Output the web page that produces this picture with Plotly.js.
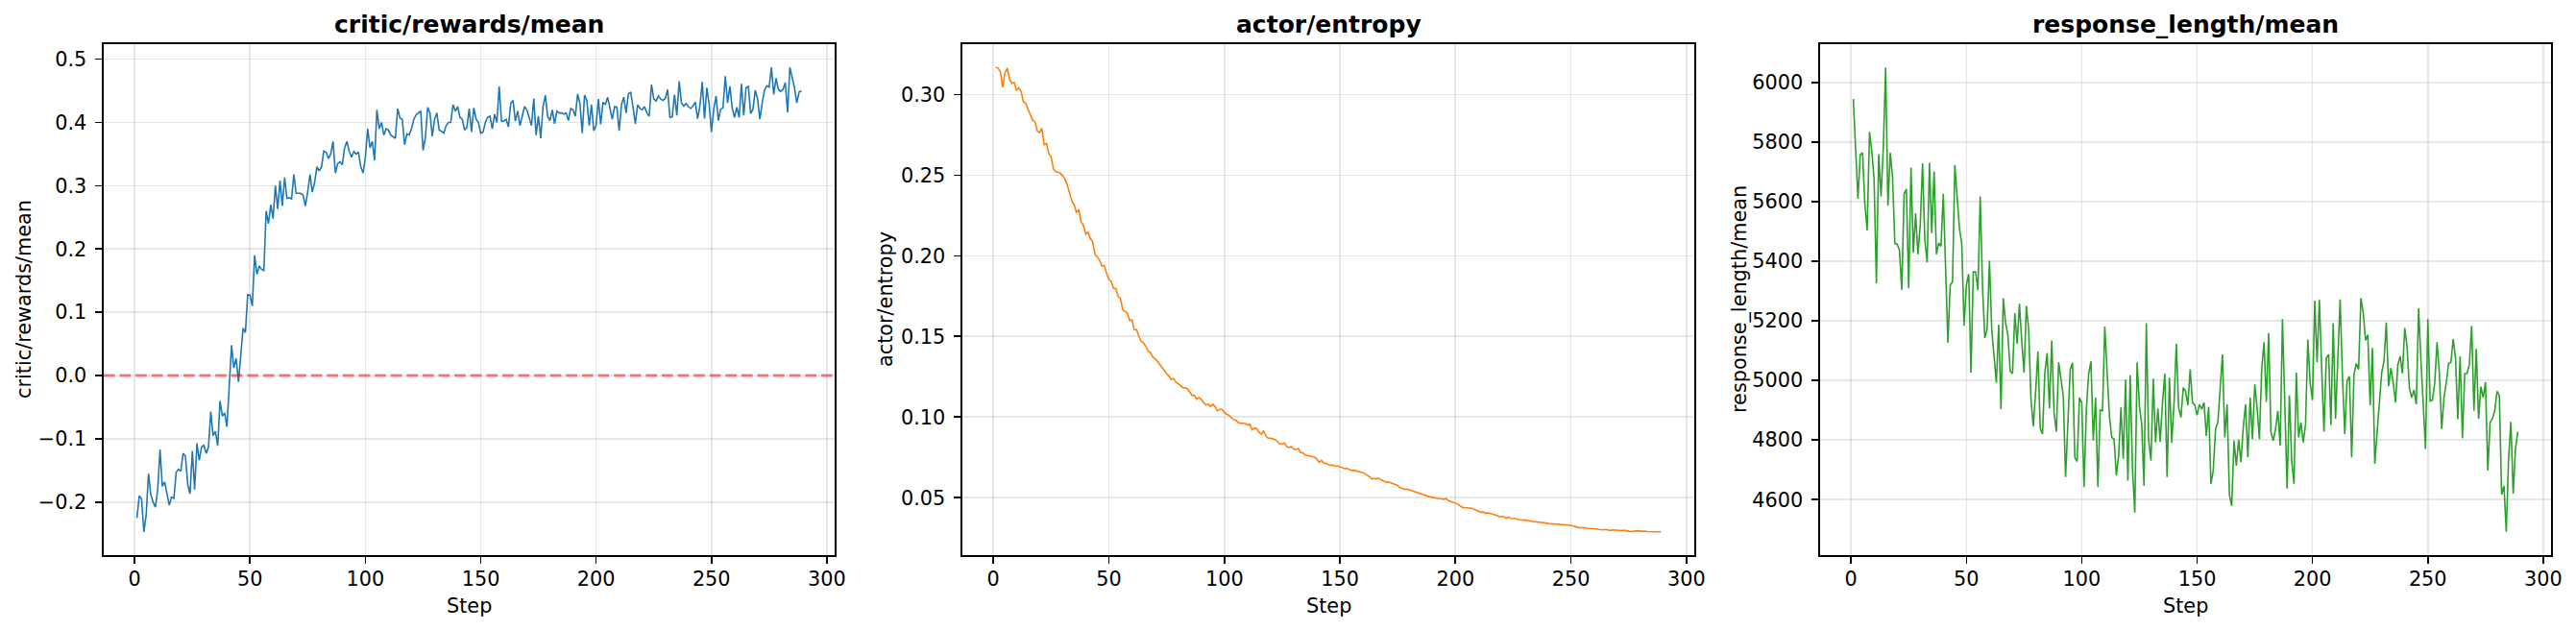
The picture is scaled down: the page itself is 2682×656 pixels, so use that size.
<!DOCTYPE html>
<html>
<head>
<meta charset="utf-8">
<script src="https://cdn.plot.ly/plotly-3.0.1.min.js"></script>
<style>html,body{margin:0;padding:0;background:#fff;}#chart{width:2682px;height:656px;}</style>
</head>
<body>
<div id="chart"></div>
<script>
// ---- data ----
const panelTitles = ["critic/rewards/mean", "actor/entropy", "response_length/mean"];
const yTitles = ["critic/rewards/mean", "actor/entropy", "response_length/mean"];
const xTitle = "Step";
const xTicks = [0, 50, 100, 150, 200, 250, 300];
const rewardTicks = [-0.2, -0.1, 0.0, 0.1, 0.2, 0.3, 0.4, 0.5];
const entropyTicks = [0.05, 0.10, 0.15, 0.20, 0.25, 0.30];
const lengthTicks = [4600, 4800, 5000, 5200, 5400, 5600, 5800, 6000];
const referenceLevel = 0;

const rewards = [
-0.225,-0.19,-0.195,-0.247,-0.22,-0.155,-0.188,-0.2,-0.208,-0.18,
-0.117,-0.175,-0.168,-0.185,-0.205,-0.192,-0.194,-0.153,-0.148,-0.151,
-0.123,-0.127,-0.172,-0.187,-0.119,-0.18,-0.107,-0.134,-0.113,-0.11,
-0.123,-0.113,-0.057,-0.095,-0.088,-0.111,-0.04,-0.064,-0.059,-0.081,
-0.02,0.048,0.012,0.027,-0.01,0.03,0.075,0.068,0.128,0.127,
0.11,0.19,0.16,0.173,0.168,0.166,0.26,0.24,0.27,0.248,
0.3,0.263,0.308,0.268,0.313,0.28,0.281,0.279,0.318,0.288,
0.288,0.288,0.285,0.268,0.29,0.318,0.29,0.305,0.33,0.323,
0.33,0.355,0.353,0.343,0.35,0.37,0.32,0.335,0.338,0.333,
0.36,0.37,0.355,0.345,0.354,0.35,0.353,0.33,0.32,0.345,
0.39,0.36,0.37,0.34,0.42,0.39,0.4,0.38,0.39,0.388,
0.38,0.378,0.375,0.422,0.407,0.405,0.365,0.382,0.38,0.39,
0.405,0.412,0.415,0.418,0.356,0.375,0.424,0.415,0.378,0.405,
0.415,0.388,0.386,0.383,0.395,0.4,0.4,0.428,0.418,0.425,
0.408,0.405,0.388,0.392,0.422,0.385,0.423,0.405,0.4,0.383,
0.385,0.4,0.408,0.41,0.39,0.413,0.4,0.457,0.402,0.402,
0.405,0.393,0.43,0.435,0.402,0.418,0.395,0.41,0.425,0.42,
0.408,0.395,0.438,0.38,0.41,0.375,0.425,0.443,0.41,0.403,
0.42,0.398,0.418,0.415,0.415,0.413,0.415,0.403,0.422,0.42,
0.41,0.445,0.43,0.383,0.443,0.435,0.395,0.428,0.387,0.395,
0.437,0.397,0.432,0.428,0.44,0.422,0.405,0.425,0.424,0.387,
0.428,0.44,0.415,0.445,0.448,0.425,0.398,0.428,0.422,0.42,
0.425,0.415,0.41,0.46,0.437,0.434,0.442,0.437,0.435,0.438,
0.452,0.408,0.409,0.444,0.411,0.465,0.431,0.426,0.43,0.425,
0.422,0.426,0.432,0.406,0.426,0.464,0.406,0.455,0.429,0.385,
0.421,0.442,0.403,0.421,0.423,0.473,0.431,0.457,0.423,0.408,
0.424,0.408,0.461,0.411,0.455,0.457,0.414,0.421,0.451,0.437,
0.405,0.431,0.451,0.458,0.456,0.487,0.444,0.47,0.452,0.449,
0.452,0.463,0.416,0.487,0.47,0.455,0.431,0.448,0.45
];

const entropy = [
0.3168,0.3164,0.3144,0.3045,0.3134,0.3164,0.3092,0.3068,0.3076,0.3025,
0.3041,0.302,0.2955,0.2945,0.2908,0.2873,0.2842,0.2832,0.2774,0.2764,
0.279,0.2688,0.2696,0.2634,0.2614,0.2538,0.2521,0.2519,0.2511,0.2497,
0.2476,0.2439,0.2388,0.2339,0.2316,0.2267,0.2287,0.2209,0.2189,0.2133,
0.2147,0.2106,0.2086,0.2008,0.1993,0.1973,0.1936,0.194,0.1891,0.1854,
0.184,0.1798,0.1798,0.1747,0.1737,0.1665,0.1655,0.1644,0.1599,0.1603,
0.1542,0.1542,0.15,0.147,0.1459,0.1439,0.1408,0.1398,0.1373,0.1361,
0.1346,0.1326,0.1305,0.1289,0.127,0.1254,0.1233,0.124,0.1217,0.1207,
0.1192,0.1182,0.1182,0.1176,0.1155,0.1135,0.1135,0.111,0.112,0.111,
0.109,0.1075,0.1079,0.1065,0.1079,0.1065,0.1038,0.1048,0.1048,0.1028,
0.1018,0.1011,0.0997,0.0983,0.098,0.0966,0.0962,0.096,0.096,0.095,
0.0956,0.0921,0.0931,0.0929,0.0905,0.0894,0.0915,0.0884,0.0868,0.0868,
0.0864,0.086,0.0847,0.0833,0.0833,0.0839,0.0816,0.0812,0.0816,0.0802,
0.0798,0.0806,0.0781,0.0777,0.0765,0.0761,0.0761,0.0755,0.0751,0.074,
0.072,0.0731,0.0714,0.0712,0.0705,0.07,0.0702,0.0695,0.0698,0.069,
0.0688,0.068,0.0682,0.0676,0.0668,0.067,0.0666,0.0664,0.0662,0.0655,
0.0648,0.0638,0.0628,0.0616,0.0619,0.0617,0.0618,0.061,0.0603,0.0596,
0.0598,0.0592,0.0588,0.0582,0.0576,0.0562,0.0558,0.0552,0.0553,0.0548,
0.0544,0.054,0.0532,0.0529,0.0522,0.0518,0.0516,0.0508,0.0505,0.0502,
0.0498,0.0497,0.0494,0.0492,0.049,0.0494,0.0482,0.0476,0.0472,0.0468,
0.0462,0.045,0.044,0.0438,0.0436,0.0437,0.0434,0.0428,0.042,0.0416,
0.041,0.0411,0.0404,0.0406,0.0403,0.04,0.0396,0.039,0.0382,0.0381,
0.0382,0.0372,0.038,0.0372,0.0372,0.037,0.0366,0.0362,0.036,0.0362,
0.0359,0.0354,0.0352,0.0351,0.035,0.0349,0.0346,0.0344,0.0343,0.034,
0.0339,0.0338,0.0334,0.0332,0.0331,0.033,0.0332,0.033,0.0328,0.0329,
0.0324,0.0318,0.0316,0.0314,0.0315,0.0313,0.0311,0.031,0.0309,0.031,
0.0306,0.0303,0.0301,0.03,0.0303,0.0298,0.0297,0.03,0.0298,0.0297,
0.0298,0.0296,0.0298,0.0293,0.0292,0.029,0.0293,0.0294,0.0295,0.0292,
0.0294,0.0293,0.029,0.0289,0.0288,0.0289,0.0288,0.0288,0.0289
];

const responseLength = [
5944,5748,5609,5757,5764,5592,5503,5834,5770,5676,
5326,5759,5617,5781,6050,5587,5764,5681,5459,5457,
5437,5303,5626,5642,5309,5714,5428,5561,5423,5520,
5728,5470,5396,5730,5494,5701,5423,5461,5450,5626,
5392,5126,5320,5331,5723,5626,5509,5459,5183,5320,
5357,5026,5364,5364,5303,5617,5314,5142,5172,5401,
5170,5081,4992,5187,4903,5276,5192,5153,5031,5023,
5226,5123,5257,5131,5026,5250,5170,4937,4846,4959,
5098,4839,4820,5026,5092,4906,5134,4892,4828,5061,
5003,4948,4676,4870,5037,5059,4742,4728,4942,4926,
4642,4903,5023,5064,4798,4942,4642,4901,4898,5181,
5026,4881,4809,4803,4681,4748,4909,4737,5003,4664,
5017,4703,4557,5061,4914,4853,4646,5192,4798,4731,
5006,4792,4906,4794,4926,5023,4676,5009,4790,4926,
5123,4909,4876,4976,4964,4917,5037,4926,4917,4883,
4920,4903,4926,4814,4912,4653,4698,4837,4859,4981,
5087,4809,4920,4617,4579,4798,4714,4801,4726,4842,
4920,4742,4942,4803,4987,4909,4803,5037,5128,4928,
5159,4826,4798,4837,4898,4781,5206,4926,4637,4950,
4731,4653,5026,4809,4859,4792,4853,5137,4992,4934,
5268,5061,5270,5037,4828,5076,5087,4850,5192,4872,
5092,5272,5014,4820,4998,5014,4742,5020,5057,5037,
5276,5228,5134,5153,4917,5109,4720,4814,4920,5026,
5064,5194,4981,5042,4992,4926,5053,5081,5023,5176,
5114,4976,4942,4968,4920,5242,5070,4926,4770,5206,
4931,4934,4992,5128,5026,4837,4942,4992,5057,5061,
5139,5076,4870,5081,4806,5023,5023,5053,5183,4898,
5106,4872,4979,4942,4994,4698,4859,4872,4898,4964,
4950,4617,4646,4492,4737,4861,4620,4772,4828
];

// ---- layout / styling ----
const W = 2682, H = 656;
const FONT = "DejaVu Sans";
const frames = [[108, 869], [1002, 1764], [1895, 2656]];
const yTop = 46, yBot = 578;
const yDom = [(H - yBot) / H, (H - yTop) / H];
const colors = ["#1f77b4", "#ff7f0e", "#2ca02c"];
const series = [rewards, entropy, responseLength];
const yTickSets = [rewardTicks, entropyTicks, lengthTicks];
const yFormats = [".1f", ".2f", "d"];
const yTitleX = [25, 922, 1811];

function padRange(arr) {
  const lo = Math.min(...arr), hi = Math.max(...arr);
  const m = (hi - lo) * 0.05;
  return [lo - m, hi + m];
}

const traces = [];
const layout = {
  width: W, height: H,
  margin: {l: 0, r: 0, t: 0, b: 0, pad: 0},
  paper_bgcolor: "#fff", plot_bgcolor: "#fff",
  showlegend: false,
  font: {family: FONT, size: 20.8, color: "#000"},
  annotations: [],
  shapes: []
};

series.forEach((vals, i) => {
  const steps = vals.map((_, k) => k + 1);
  const sfx = i === 0 ? "" : String(i + 1);
  traces.push({
    x: steps, y: vals, type: "scatter", mode: "lines",
    xaxis: "x" + sfx, yaxis: "y" + sfx,
    line: {color: colors[i], width: 1.6},
    hoverinfo: "skip"
  });
  const common = {
    showline: true, mirror: true, linecolor: "#000", linewidth: 1.6,
    ticks: "outside", ticklen: 7, tickwidth: 1.6, tickcolor: "#000",
    showgrid: true, gridcolor: "rgba(176,176,176,0.3)", gridwidth: 1.6,
    zeroline: false,
    tickfont: {family: FONT, size: 20.8, color: "#000"}
  };
  const xr = padRange(steps);
  layout["xaxis" + sfx] = Object.assign({}, common, {
    domain: [frames[i][0] / W, frames[i][1] / W],
    anchor: "y" + sfx, range: xr,
    tickmode: "array", tickvals: xTicks, ticktext: xTicks.map(String),
    ticklabelstandoff: -2
  });
  layout["yaxis" + sfx] = Object.assign({}, common, {
    domain: yDom, anchor: "x" + sfx, range: padRange(vals),
    tickmode: "array", tickvals: yTickSets[i], tickformat: yFormats[i],
    ticklabelstandoff: 5
  });
  const cx = (frames[i][0] + frames[i][1]) / 2 / W;
  layout.annotations.push({
    text: panelTitles[i], xref: "paper", yref: "paper",
    x: cx, y: 1 - 25.5 / H, xanchor: "center", yanchor: "middle",
    showarrow: false, font: {family: FONT, size: 25, color: "#000", weight: "bold"}
  });
  layout.annotations.push({
    text: xTitle, xref: "paper", yref: "paper",
    x: cx, y: 1 - 631 / H, xanchor: "center", yanchor: "middle",
    showarrow: false, font: {family: FONT, size: 20.8, color: "#000"}
  });
  layout.annotations.push({
    text: yTitles[i], xref: "paper", yref: "paper",
    x: yTitleX[i] / W, y: (yDom[0] + yDom[1]) / 2, xanchor: "center", yanchor: "middle",
    textangle: -90, showarrow: false, font: {family: FONT, size: 20.8, color: "#000"}
  });
});

layout.shapes.push({
  type: "line", xref: "x domain", yref: "y", x0: 0, x1: 1,
  y0: referenceLevel, y1: referenceLevel, layer: "above",
  line: {color: "rgba(255,0,0,0.5)", width: 3.1, dash: "11.6px,5px"}
});

Plotly.newPlot("chart", traces, layout, {staticPlot: true, displayModeBar: false});
</script>
</body>
</html>
